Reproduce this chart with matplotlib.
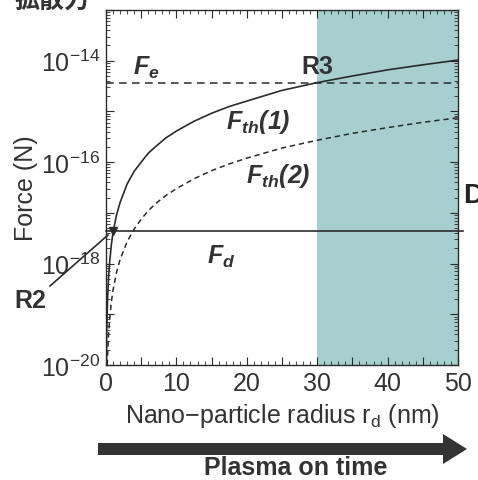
import numpy as np
import matplotlib.pyplot as plt
from matplotlib.lines import Line2D
from matplotlib.ticker import FixedLocator, LogLocator, NullFormatter, FuncFormatter
from matplotlib.patches import FancyArrow

plt.rcParams['font.family'] = ['Liberation Sans', 'Noto Sans CJK JP', 'DejaVu Sans']

# values
r1 = [0.05, 0.1, 0.2, 0.35, 0.5, 0.75, 1, 1.5, 2, 3, 4, 5, 6, 7, 8.5, 10, 12.5, 15, 17.5, 20,
      25, 30, 35, 40, 45, 50]
F_th1 = [1.0e-20, 4.1e-20, 1.6e-19, 5.0e-19, 1.0e-18, 2.3e-18, 4.1e-18, 9.2e-18, 1.6e-17,
         3.7e-17, 6.6e-17, 1.0e-16, 1.5e-16, 2.0e-16, 3.0e-16, 4.1e-16, 6.4e-16, 9.2e-16,
         1.25e-15, 1.6e-15, 2.6e-15, 3.7e-15, 5.0e-15, 6.6e-15, 8.3e-15, 1.03e-14]
r2 = [0.18, 0.25, 0.35, 0.5, 0.75, 1, 1.5, 2, 3, 4, 5, 6, 7, 8.5, 10, 12.5, 15, 17.5, 20, 25,
      30, 35, 40, 45, 50]
F_th2 = [1.0e-20, 1.9e-20, 3.7e-20, 7.5e-20, 1.7e-19, 3.0e-19, 6.8e-19, 1.2e-18, 2.7e-18,
         4.8e-18, 7.5e-18, 1.1e-17, 1.5e-17, 2.2e-17, 3.0e-17, 4.7e-17, 6.8e-17, 9.2e-17,
         1.2e-16, 1.9e-16, 2.7e-16, 3.7e-16, 4.8e-16, 6.1e-16, 7.5e-16]
F_e = 3.7e-15
F_d = 4.3e-18
r_shade = [30, 50]
x_ticks = [0, 10, 20, 30, 40, 50]

fig = plt.figure(figsize=(4.78, 4.81), dpi=100)
ax = fig.add_axes([106/478, 1-366/481, 352/478, 355/481])
ink = '#2b2b2b'
txt = '#333333'

ax.axvspan(r_shade[0], r_shade[1], color='#a7cfcf', lw=0, zorder=0)
ax.plot(r1, F_th1, color=ink, lw=1.2)
ax.plot(r2, F_th2, color=ink, lw=1.1, ls=(0, (3.5, 2.5)))
ax.axhline(F_e, color=ink, lw=1.1, ls=(0, (5, 3.5)))
ax.axhline(F_d, color=ink, lw=1.2, xmax=1.015, clip_on=False)
ax.plot([1], [F_d], marker='v', color=ink, ms=6, clip_on=False)

ax.set_yscale('log')
ax.set_xlim(0, 50)
ax.set_ylim(1e-20, 1e-13)

ax.xaxis.set_major_locator(FixedLocator(np.arange(0, 51, 5)))
ax.xaxis.set_minor_locator(FixedLocator(np.arange(0, 51, 1)))
ax.xaxis.set_major_formatter(FuncFormatter(lambda v, p: '%d' % v if v in x_ticks else ''))
ax.yaxis.set_major_locator(LogLocator(base=10, numticks=20))
ax.yaxis.set_minor_locator(LogLocator(base=10, subs=np.arange(2, 10), numticks=20))
ax.yaxis.set_minor_formatter(NullFormatter())

def yfmt(v, p):
    e = int(round(np.log10(v)))
    if e % 2 == 0 and e <= -14:
        return r'$\mathregular{10^{%d}}$' % e
    return ''
ax.yaxis.set_major_formatter(FuncFormatter(yfmt))

ax.tick_params(which='both', direction='in', top=True, right=True, colors=ink, labelcolor=txt)
ax.tick_params(which='major', length=6, width=0.8, labelsize=18, pad=4)
ax.tick_params(which='minor', length=3, width=0.6)
for s in ax.spines.values():
    s.set_color(ink)
    s.set_linewidth(1.0)

ax.set_xlabel(r'Nano$\mathregular{-}$particle radius r$_\mathregular{d}$ (nm)', fontsize=18, color=txt, labelpad=5)
ax.set_ylabel('Force (N)', fontsize=18, color=txt, labelpad=2)

lab = dict(fontsize=18, fontweight='bold', fontstyle='italic', color=txt)
ax.text(3.9, 7.6e-15, r'$\mathregular{F_e}$', ha='left', va='center', **lab)
ax.text(21.7, 6.6e-16, r'$\mathregular{F_{th}(1)}$', ha='center', va='center', **lab)
ax.text(24.5, 5.6e-17, r'$\mathregular{F_{th}(2)}$', ha='center', va='center', **lab)
ax.text(16.3, 1.4e-18, r'$\mathregular{F_d}$', ha='center', va='center', **lab)
ax.text(30, 8e-15, 'R3', ha='center', va='center', fontsize=18, fontweight='bold', color=txt)

# extension of the curve outside the axes, R2 label
fig.add_artist(Line2D([50/478, 108/478], [1-287/481, 1-236/481], color=ink, lw=1.2))
fig.text(30/478, 1-301/481, 'R2', ha='center', va='center', fontsize=18, fontweight='bold', color=txt)

# arrow underneath
fig.add_artist(FancyArrow(98/478, 1-450/481, 345/478, 0, width=12/481, head_width=30/481,
                          head_length=24/478, length_includes_head=False,
                          transform=fig.transFigure, color=txt, lw=0))
fig.text(296/478, 1-468/481, 'Plasma on time', ha='center', va='center', fontsize=18,
         fontweight='bold', color=txt)

# bits of the surrounding page, cut off at the edges
fig.text(14/478, 1-1/481, '拡散力', ha='left', va='center', fontsize=18, fontweight='bold',
         color=txt, family=['Noto Sans CJK JP'])
fig.text(463/478, 1-196/481, 'D', ha='left', va='center', fontsize=20, fontweight='bold', color='#222222')

fig.savefig('out.png', dpi=100)
